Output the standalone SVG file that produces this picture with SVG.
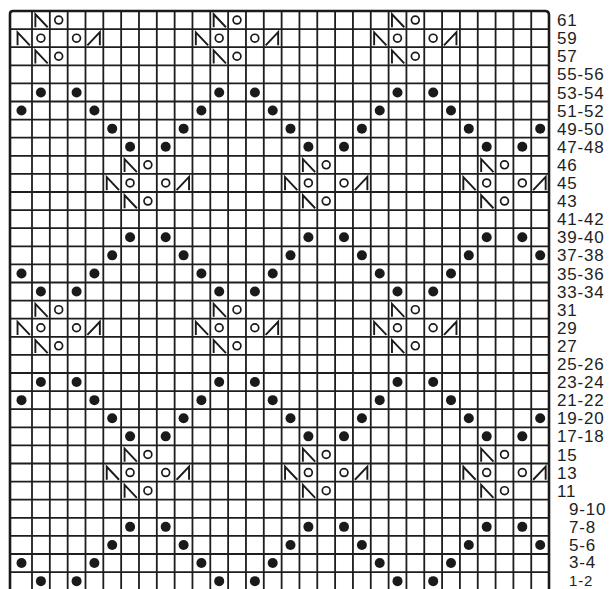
<svg xmlns="http://www.w3.org/2000/svg" xmlns:xlink="http://www.w3.org/1999/xlink" width="610" height="589" viewBox="0 0 610 589">
<style>
.grid{fill:none;stroke:#1e1e1e;stroke-width:1.8}
.border{fill:none;stroke:#1a1a1a;stroke-width:2.6}
.sym{fill:none;stroke:#1a1a1a;stroke-width:1.9;stroke-linejoin:miter}
.ring{fill:none;stroke:#1a1a1a;stroke-width:1.7}
.dot{fill:#1a1a1a}
.lbl{font-family:"Liberation Sans",Arial,sans-serif;font-size:17px;fill:#1e1e1e;letter-spacing:0.8px}
</style>
<defs>
<circle id="dot" class="dot" r="5"/>
<circle id="ring" class="ring" r="3.9"/>
<path id="kL" class="sym" d="M-5.5,7.2 V-5.8 L6.8,7.2"/>
<path id="kR" class="sym" d="M-7,7.2 L5.5,-6 V7.2"/>
<g id="motif">
<use href="#kL" x="-17.83" y="0"/><use href="#ring" x="0" y="0"/>
<use href="#kL" x="-35.66" y="18.1"/><use href="#ring" x="-17.83" y="18.1"/><use href="#ring" x="17.83" y="18.1"/><use href="#kR" x="35.66" y="18.1"/>
<use href="#kL" x="-17.83" y="36.2"/><use href="#ring" x="0" y="36.2"/>
</g>
</defs>
<rect width="610" height="589" fill="#fff"/>
<g id="grid">
<path class="grid" d="M10,29.1H549M10,47.2H549M10,65.3H549M10,83.4H549M10,101.5H549M10,119.6H549M10,137.7H549M10,155.8H549M10,173.9H549M10,192H549M10,210.1H549M10,228.2H549M10,246.3H549M10,264.4H549M10,282.5H549M10,300.6H549M10,318.7H549M10,336.8H549M10,354.9H549M10,373H549M10,391.1H549M10,409.2H549M10,427.3H549M10,445.4H549M10,463.5H549M10,481.6H549M10,499.7H549M10,517.8H549M10,535.9H549M10,554H549M10,572.1H549"/>
<path class="grid" d="M32,11V589M49.83,11V589M67.66,11V589M85.49,11V589M103.32,11V589M121.15,11V589M138.98,11V589M156.81,11V589M174.64,11V589M192.47,11V589M210.3,11V589M228.13,11V589M245.96,11V589M263.79,11V589M281.62,11V589M299.45,11V589M317.28,11V589M335.11,11V589M352.94,11V589M370.77,11V589M388.6,11V589M406.43,11V589M424.26,11V589M442.09,11V589M459.92,11V589M477.75,11V589M495.58,11V589M513.41,11V589M531.24,11V589"/>
<path class="border" d="M10,589V14Q10,11 13,11H545Q549,11 549,15V589"/>
</g>
<g id="motifs">
<use id="m-61-a" href="#motif" x="58.7" y="20.05"/><use id="m-61-b" href="#motif" x="237.0" y="20.05"/><use id="m-61-c" href="#motif" x="415.3" y="20.05"/>
<use id="m-46-a" href="#motif" x="147.9" y="164.85"/><use id="m-46-b" href="#motif" x="326.2" y="164.85"/><use id="m-46-c" href="#motif" x="504.5" y="164.85"/>
<use id="m-31-a" href="#motif" x="58.7" y="309.65"/><use id="m-31-b" href="#motif" x="237.0" y="309.65"/><use id="m-31-c" href="#motif" x="415.3" y="309.65"/>
<use id="m-15-a" href="#motif" x="147.9" y="454.45"/><use id="m-15-b" href="#motif" x="326.2" y="454.45"/><use id="m-15-c" href="#motif" x="504.5" y="454.45"/>
</g>
<g id="dots">
<g id="r53"><use href="#dot" x="40.9" y="92.45"/><use href="#dot" x="76.6" y="92.45"/><use href="#dot" x="219.2" y="92.45"/><use href="#dot" x="254.9" y="92.45"/><use href="#dot" x="397.5" y="92.45"/><use href="#dot" x="433.2" y="92.45"/></g>
<g id="r51"><use href="#dot" x="21.5" y="110.55"/><use href="#dot" x="94.4" y="110.55"/><use href="#dot" x="201.4" y="110.55"/><use href="#dot" x="272.7" y="110.55"/><use href="#dot" x="379.7" y="110.55"/><use href="#dot" x="451.0" y="110.55"/></g>
<g id="r49"><use href="#dot" x="112.2" y="128.65"/><use href="#dot" x="183.6" y="128.65"/><use href="#dot" x="290.5" y="128.65"/><use href="#dot" x="361.9" y="128.65"/><use href="#dot" x="468.8" y="128.65"/><use href="#dot" x="540.2" y="128.65"/></g>
<g id="r47"><use href="#dot" x="130.1" y="146.75"/><use href="#dot" x="165.7" y="146.75"/><use href="#dot" x="308.4" y="146.75"/><use href="#dot" x="344.0" y="146.75"/><use href="#dot" x="486.7" y="146.75"/><use href="#dot" x="522.3" y="146.75"/></g>
<g id="r39"><use href="#dot" x="130.1" y="237.25"/><use href="#dot" x="165.7" y="237.25"/><use href="#dot" x="308.4" y="237.25"/><use href="#dot" x="344.0" y="237.25"/><use href="#dot" x="486.7" y="237.25"/><use href="#dot" x="522.3" y="237.25"/></g>
<g id="r37"><use href="#dot" x="112.2" y="255.35"/><use href="#dot" x="183.6" y="255.35"/><use href="#dot" x="290.5" y="255.35"/><use href="#dot" x="361.9" y="255.35"/><use href="#dot" x="468.8" y="255.35"/><use href="#dot" x="540.2" y="255.35"/></g>
<g id="r35"><use href="#dot" x="21.5" y="273.45"/><use href="#dot" x="94.4" y="273.45"/><use href="#dot" x="201.4" y="273.45"/><use href="#dot" x="272.7" y="273.45"/><use href="#dot" x="379.7" y="273.45"/><use href="#dot" x="451.0" y="273.45"/></g>
<g id="r33"><use href="#dot" x="40.9" y="291.55"/><use href="#dot" x="76.6" y="291.55"/><use href="#dot" x="219.2" y="291.55"/><use href="#dot" x="254.9" y="291.55"/><use href="#dot" x="397.5" y="291.55"/><use href="#dot" x="433.2" y="291.55"/></g>
<g id="r23"><use href="#dot" x="40.9" y="382.05"/><use href="#dot" x="76.6" y="382.05"/><use href="#dot" x="219.2" y="382.05"/><use href="#dot" x="254.9" y="382.05"/><use href="#dot" x="397.5" y="382.05"/><use href="#dot" x="433.2" y="382.05"/></g>
<g id="r21"><use href="#dot" x="21.5" y="400.15"/><use href="#dot" x="94.4" y="400.15"/><use href="#dot" x="201.4" y="400.15"/><use href="#dot" x="272.7" y="400.15"/><use href="#dot" x="379.7" y="400.15"/><use href="#dot" x="451.0" y="400.15"/></g>
<g id="r19"><use href="#dot" x="112.2" y="418.25"/><use href="#dot" x="183.6" y="418.25"/><use href="#dot" x="290.5" y="418.25"/><use href="#dot" x="361.9" y="418.25"/><use href="#dot" x="468.8" y="418.25"/><use href="#dot" x="540.2" y="418.25"/></g>
<g id="r17"><use href="#dot" x="130.1" y="436.35"/><use href="#dot" x="165.7" y="436.35"/><use href="#dot" x="308.4" y="436.35"/><use href="#dot" x="344.0" y="436.35"/><use href="#dot" x="486.7" y="436.35"/><use href="#dot" x="522.3" y="436.35"/></g>
<g id="r7"><use href="#dot" x="130.1" y="526.85"/><use href="#dot" x="165.7" y="526.85"/><use href="#dot" x="308.4" y="526.85"/><use href="#dot" x="344.0" y="526.85"/><use href="#dot" x="486.7" y="526.85"/><use href="#dot" x="522.3" y="526.85"/></g>
<g id="r5"><use href="#dot" x="112.2" y="544.95"/><use href="#dot" x="183.6" y="544.95"/><use href="#dot" x="290.5" y="544.95"/><use href="#dot" x="361.9" y="544.95"/><use href="#dot" x="468.8" y="544.95"/><use href="#dot" x="540.2" y="544.95"/></g>
<g id="r3"><use href="#dot" x="21.5" y="563.05"/><use href="#dot" x="94.4" y="563.05"/><use href="#dot" x="201.4" y="563.05"/><use href="#dot" x="272.7" y="563.05"/><use href="#dot" x="379.7" y="563.05"/><use href="#dot" x="451.0" y="563.05"/></g>
<g id="r1"><use href="#dot" x="40.9" y="581.15"/><use href="#dot" x="76.6" y="581.15"/><use href="#dot" x="219.2" y="581.15"/><use href="#dot" x="254.9" y="581.15"/><use href="#dot" x="397.5" y="581.15"/><use href="#dot" x="433.2" y="581.15"/></g>
</g>
<g id="labels" class="lbl">
<text x="557" y="26">61</text>
<text x="557" y="44.2">59</text>
<text x="557" y="62.3">57</text>
<text x="557" y="80.4">55-56</text>
<text x="557" y="98.5">53-54</text>
<text x="557" y="116.6">51-52</text>
<text x="557" y="134.7">49-50</text>
<text x="557" y="152.8">47-48</text>
<text x="557" y="170.9">46</text>
<text x="557" y="189">45</text>
<text x="557" y="207.1">43</text>
<text x="557" y="225.2">41-42</text>
<text x="557" y="243.3">39-40</text>
<text x="557" y="261.4">37-38</text>
<text x="557" y="279.5">35-36</text>
<text x="557" y="297.6">33-34</text>
<text x="557" y="315.7">31</text>
<text x="557" y="333.8">29</text>
<text x="557" y="351.9">27</text>
<text x="557" y="370">25-26</text>
<text x="557" y="388.1">23-24</text>
<text x="557" y="406.2">21-22</text>
<text x="557" y="424.3">19-20</text>
<text x="557" y="442.4">17-18</text>
<text x="557" y="460.5">15</text>
<text x="557" y="478.6">13</text>
<text x="557" y="496.7">11</text>
<text x="569" y="514.8">9-10</text>
<text x="569" y="532.9">7-8</text>
<text x="569" y="551">5-6</text>
<text x="569" y="568.4">3-4</text>
<text x="569" y="585.8" style="font-size:15px">1-2</text>
</g>
</svg>
